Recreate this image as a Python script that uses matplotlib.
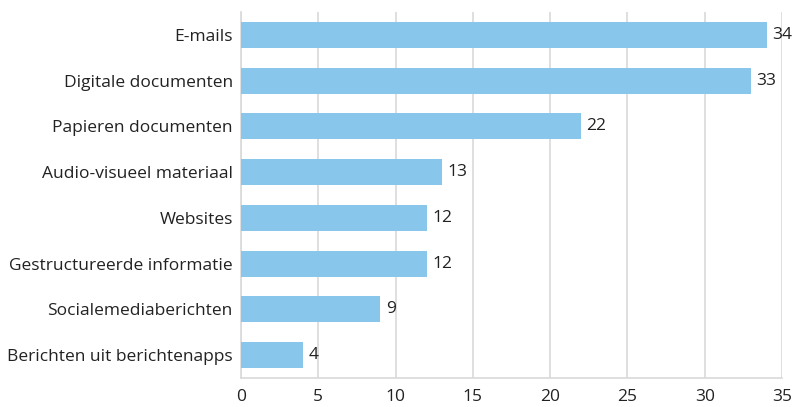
import matplotlib
matplotlib.use("Agg")
import matplotlib.pyplot as plt

categories = ["E-mails", "Digitale documenten", "Papieren documenten",
              "Audio-visueel materiaal", "Websites", "Gestructureerde informatie",
              "Socialemediaberichten", "Berichten uit berichtenapps"]
values = [34, 33, 22, 13, 12, 12, 9, 4]
xticks = [0, 5, 10, 15, 20, 25, 30, 35]

plt.rcParams['font.family'] = ['Open Sans', 'DejaVu Sans']

fig = plt.figure(figsize=(7.96, 4.07), dpi=100)
ax = fig.add_axes([0.3028, 0.0713, 0.6796, 0.8992])

y = list(range(len(categories)))
ax.barh(y, values, height=0.57, color="#89C6EB", zorder=3)
ax.set_ylim(len(categories) - 0.5, -0.5)
ax.set_xlim(0, 35)
ax.set_xticks(xticks)
ax.set_xticklabels([str(t) for t in xticks], fontsize=12.5, color="#222222")
ax.set_yticks(y)
ax.set_yticklabels(categories, fontsize=12.5, color="#222222")
ax.tick_params(axis="both", length=0)
ax.tick_params(axis="x", pad=8)
ax.tick_params(axis="y", pad=6)
ax.grid(axis="x", color="#d9d9d9", linewidth=1.2, zorder=0)
for s in ["top", "right"]:
    ax.spines[s].set_visible(False)
for s in ["left", "bottom"]:
    ax.spines[s].set_color("#d9d9d9")
    ax.spines[s].set_linewidth(1.2)

for yi, v in zip(y, values):
    ax.annotate(str(v), (v, yi), xytext=(4, 0), textcoords="offset points",
                va="center", ha="left", fontsize=12.5, color="#222222")

fig.savefig("out.png", dpi=100)
